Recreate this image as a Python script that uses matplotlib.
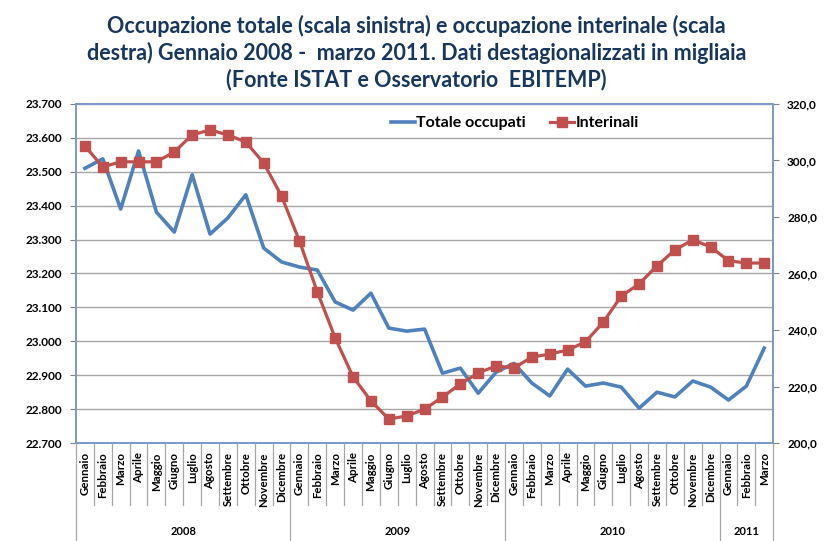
import numpy as np
import matplotlib
matplotlib.use('Agg')
import matplotlib.pyplot as plt

# Dati mensili gennaio 2008 - marzo 2011
mesi = ['Gennaio', 'Febbraio', 'Marzo', 'Aprile', 'Maggio', 'Giugno', 'Luglio',
        'Agosto', 'Settembre', 'Ottobre', 'Novembre', 'Dicembre']
etichette_mesi = mesi * 3 + mesi[:3]
anni = ['2008', '2009', '2010', '2011']
mesi_per_anno = [12, 12, 12, 3]

totale_occupati = [23510, 23538, 23390, 23561, 23381, 23322, 23491, 23316, 23364, 23432,
                   23275, 23234, 23219, 23210, 23116, 23092, 23142, 23039, 23030, 23036,
                   22906, 22921, 22847, 22909, 22935, 22877, 22839, 22918, 22868, 22877,
                   22865, 22803, 22850, 22836, 22883, 22865, 22827, 22868, 22980]

interinali = [305.1, 297.7, 299.5, 299.5, 299.5, 303.0, 309.0, 310.8, 309.0, 306.5,
              299.1, 287.4, 271.5, 253.5, 237.2, 223.4, 214.9, 208.5, 209.6, 212.0,
              216.3, 220.9, 224.8, 227.3, 226.6, 230.4, 231.5, 232.9, 235.8, 242.8,
              252.0, 256.3, 262.7, 268.3, 271.9, 269.4, 264.5, 263.7, 263.7]

blu = '#4F81BD'
rosso = '#C0504D'
bordo = '#7A9CC8'

plt.rcParams['font.family'] = ['Lato', 'DejaVu Sans']

fig = plt.figure(figsize=(8.33, 5.41), dpi=100)
ax = fig.add_axes([0.0912, 0.181, 0.837, 0.627])
ax2 = ax.twinx()

x = np.arange(len(totale_occupati))
l1, = ax.plot(x, totale_occupati, color=blu, lw=2.6, label='Totale occupati', zorder=3)
l2, = ax2.plot(x, interinali, color=rosso, lw=2.3, marker='s', markersize=7,
               markeredgecolor=rosso, label='Interinali', zorder=3)

ax.set_xlim(-0.5, len(x) - 0.5)
ax.set_ylim(22700, 23700)
ax2.set_ylim(200, 320)
ax.set_yticks(np.arange(22700, 23701, 100))
ax2.set_yticks(np.arange(200, 321, 20))
ax.set_yticklabels([f'{v // 1000}.{v % 1000:03d}' for v in range(22700, 23701, 100)],
                   fontsize=8.5, fontweight='bold')
ax2.set_yticklabels([f'{v},0' for v in range(200, 321, 20)], fontsize=8.5, fontweight='bold')
ax.yaxis.grid(True, color='#A6A6A6', lw=1)
ax.set_axisbelow(True)
ax.tick_params(axis='y', length=4, color='#808080', pad=6)
ax2.tick_params(axis='y', length=4, color='#808080', pad=6)

for a in (ax, ax2):
    for s in a.spines.values():
        s.set_color(bordo)
        s.set_linewidth(1.3)

# asse x a due livelli
ax.set_xticks([])
trans = ax.get_xaxis_transform()
for i, m in enumerate(etichette_mesi):
    ax.text(i, -0.027, m, rotation=90, ha='center', va='top', fontsize=8.3,
            fontweight='bold', transform=trans)
confini = np.arange(-0.5, len(x), 1)
inizi_anno = np.cumsum([0] + mesi_per_anno) - 0.5
for c in confini:
    basso = -0.29 if c in inizi_anno else -0.183
    ax.plot([c, c], [0, basso], color='#A6A6A6', lw=0.9, transform=trans, clip_on=False)
for k, anno in enumerate(anni):
    centro = (inizi_anno[k] + inizi_anno[k + 1]) / 2
    ax.text(centro, -0.262, anno, ha='center', va='center', fontsize=8,
            fontweight='bold', transform=trans)

fig.legend(handles=[l1, l2], loc='center', bbox_to_anchor=(0.618, 0.772), ncol=2,
           frameon=False, handlelength=1.5, columnspacing=1.5,
           handletextpad=0.1, prop={'weight': 'bold', 'size': 11.5})

fig.text(0.5, 0.972, 'Occupazione totale (scala sinistra) e occupazione interinale (scala\n'
         'destra) Gennaio 2008 -  marzo 2011. Dati destagionalizzati in migliaia\n'
         '(Fonte ISTAT e Osservatorio  EBITEMP)', ha='center', va='top',
         fontsize=15.5, fontweight='bold', color='#17375E', linespacing=1.25)

fig.savefig('out.png', dpi=100)
